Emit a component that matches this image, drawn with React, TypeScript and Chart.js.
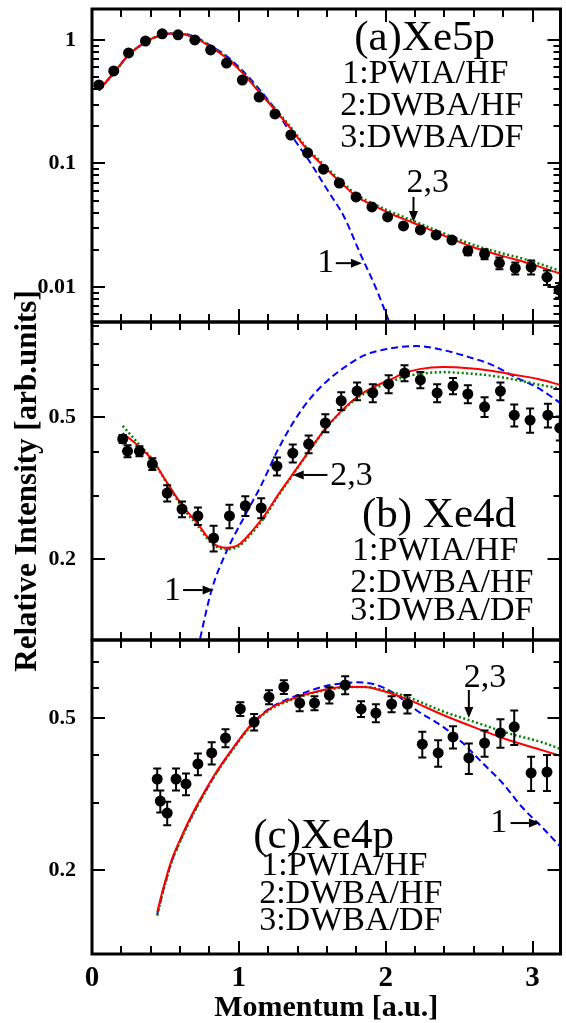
import React, { useEffect, useRef } from 'react';
import { Chart, registerables } from 'chart.js';

Chart.register(...registerables);

const FONT = '"Liberation Serif", "Times New Roman", serif';

// ---------- shared axis ticks ----------
const xTickPositions = [0, 0.2, 0.4, 0.6, 0.8, 1, 1.2, 1.4, 1.6, 1.8, 2, 2.2, 2.4, 2.6, 2.8, 3, 3.19];
const xTickValues = [0, 1, 2, 3];
const xTickLabels = ['0', '1', '2', '3'];

// ---------- (a) Xe5p ----------
const aMomentum = [0.047, 0.148, 0.249, 0.364, 0.478, 0.586, 0.700, 0.808, 0.916, 1.024, 1.138, 1.246, 1.354, 1.468, 1.576, 1.684, 1.798, 1.906, 2.013, 2.121, 2.236, 2.343, 2.451, 2.559, 2.673, 2.774, 2.882, 2.990, 3.098, 3.18];
const aIntensity = [0.432, 0.561, 0.785, 0.98, 1.12, 1.10, 1.0, 0.83, 0.65, 0.474, 0.345, 0.252, 0.170, 0.122, 0.090, 0.0695, 0.0536, 0.0445, 0.0369, 0.0312, 0.0290, 0.0264, 0.0240, 0.0196, 0.0185, 0.0156, 0.0142, 0.0145, 0.0120, 0.0095];
const aError = [0, 0, 0, 0, 0, 0, 0, 0, 0, 0, 0, 0, 0, 0, 0, 0, 0, 0, 0, 0, 0, 0.0008, 0.0009, 0.0015, 0.0017, 0.0017, 0.0016, 0.0019, 0.0016, 0.0013];
const aTheoryMomentum = [0.047, 0.148, 0.249, 0.364, 0.478, 0.586, 0.700, 0.808, 0.916, 1.024, 1.138, 1.246, 1.333, 1.468, 1.582, 1.690, 1.805, 1.919, 2.027, 2.189, 2.343, 2.458, 2.566, 2.700, 2.835, 2.970, 3.19];
const aDwbaHf = [0.394, 0.54, 0.756, 0.96, 1.10, 1.13, 1.04, 0.877, 0.715, 0.541, 0.379, 0.271, 0.205, 0.1285, 0.0937, 0.0708, 0.0536, 0.0455, 0.0395, 0.0330, 0.0277, 0.0243, 0.0216, 0.0192, 0.0173, 0.0156, 0.0128];
const aDwbaDf = [0.390, 0.535, 0.752, 0.958, 1.10, 1.13, 1.045, 0.885, 0.725, 0.550, 0.386, 0.277, 0.210, 0.132, 0.0965, 0.073, 0.0555, 0.0470, 0.0410, 0.0343, 0.0288, 0.0254, 0.0226, 0.0201, 0.0182, 0.0165, 0.0135];
const aPwiaMomentum = [0.047, 0.148, 0.249, 0.364, 0.478, 0.586, 0.700, 0.808, 0.916, 1.024, 1.138, 1.266, 1.380, 1.488, 1.603, 1.717, 1.825, 1.939, 2.027, 2.10];
const aPwiaHf = [0.394, 0.54, 0.756, 0.96, 1.10, 1.14, 1.06, 0.90, 0.74, 0.565, 0.40, 0.256, 0.155, 0.101, 0.061, 0.0369, 0.0188, 0.00946, 0.0051, 0.0031];
const aYTickValues = [1, 0.1, 0.01];
const aYTickLabels = ['1', '0.1', '0.01'];

// ---------- (b) Xe4d ----------
const bMomentum = [0.209, 0.242, 0.323, 0.411, 0.512, 0.613, 0.721, 0.828, 0.936, 1.044, 1.152, 1.259, 1.367, 1.475, 1.589, 1.697, 1.805, 1.912, 2.020, 2.128, 2.236, 2.350, 2.458, 2.559, 2.673, 2.781, 2.875, 2.983, 3.104, 3.185];
const bIntensity = [0.434, 0.401, 0.401, 0.369, 0.306, 0.276, 0.264, 0.229, 0.264, 0.282, 0.278, 0.364, 0.396, 0.420, 0.481, 0.555, 0.591, 0.584, 0.619, 0.664, 0.635, 0.584, 0.611, 0.580, 0.534, 0.591, 0.506, 0.490, 0.506, 0.466];
const bError = [0.011, 0.0155, 0.013, 0.014, 0.016, 0.014, 0.015, 0.019, 0.020, 0.018, 0.018, 0.021, 0.023, 0.024, 0.028, 0.032, 0.034, 0.034, 0.036, 0.034, 0.033, 0.034, 0.032, 0.034, 0.034, 0.034, 0.036, 0.038, 0.039, 0.036];
const bTheoryMomentum = [0.209, 0.323, 0.411, 0.512, 0.613, 0.727, 0.815, 0.916, 0.997, 1.084, 1.178, 1.266, 1.354, 1.468, 1.582, 1.690, 1.805, 1.919, 2.027, 2.128, 2.229, 2.391, 2.566, 2.727, 2.882, 3.037, 3.19];
const bDwbaHf = [0.451, 0.412, 0.379, 0.327, 0.283, 0.249, 0.223, 0.215, 0.219, 0.238, 0.266, 0.302, 0.340, 0.396, 0.460, 0.516, 0.569, 0.607, 0.635, 0.664, 0.681, 0.690, 0.685, 0.673, 0.656, 0.639, 0.615];
const bDwbaDf = [0.472, 0.418, 0.380, 0.325, 0.280, 0.246, 0.221, 0.213, 0.217, 0.235, 0.263, 0.300, 0.338, 0.395, 0.459, 0.514, 0.565, 0.600, 0.625, 0.648, 0.660, 0.668, 0.662, 0.652, 0.636, 0.617, 0.600];
const bPwiaMomentum = [0.72, 0.815, 0.916, 1.044, 1.152, 1.266, 1.380, 1.488, 1.603, 1.717, 1.852, 2.007, 2.209, 2.391, 2.566, 2.727, 2.882, 3.037, 3.19];
const bPwiaHf = [0.112, 0.164, 0.210, 0.266, 0.322, 0.405, 0.490, 0.565, 0.632, 0.688, 0.744, 0.775, 0.790, 0.770, 0.736, 0.699, 0.647, 0.603, 0.547];
const bYTickValues = [0.5, 0.2];
const bYTickLabels = ['0.5', '0.2'];

// ---------- (c) Xe4p ----------
const cMomentum = [0.444, 0.465, 0.512, 0.572, 0.640, 0.721, 0.815, 0.909, 1.010, 1.104, 1.205, 1.306, 1.414, 1.515, 1.616, 1.724, 1.832, 1.933, 2.040, 2.148, 2.249, 2.357, 2.458, 2.566, 2.673, 2.781, 2.875, 2.990, 3.098];
const cIntensity = [0.346, 0.303, 0.282, 0.346, 0.336, 0.379, 0.405, 0.443, 0.528, 0.488, 0.567, 0.603, 0.547, 0.547, 0.574, 0.610, 0.528, 0.515, 0.544, 0.544, 0.427, 0.405, 0.446, 0.393, 0.430, 0.457, 0.474, 0.359, 0.361];
const cError = [0.023, 0.020, 0.020, 0.023, 0.022, 0.025, 0.027, 0.024, 0.022, 0.024, 0.024, 0.025, 0.026, 0.023, 0.028, 0.033, 0.025, 0.028, 0.026, 0.030, 0.033, 0.032, 0.030, 0.036, 0.034, 0.039, 0.049, 0.037, 0.039];
const cTheoryMomentum = [0.444, 0.478, 0.512, 0.545, 0.593, 0.680, 0.761, 0.842, 0.950, 1.084, 1.219, 1.333, 1.488, 1.717, 1.852, 2.027, 2.162, 2.391, 2.613, 2.835, 3.064, 3.19];
const cDwbaHf = [0.155, 0.175, 0.195, 0.214, 0.237, 0.279, 0.318, 0.359, 0.412, 0.480, 0.531, 0.556, 0.581, 0.603, 0.603, 0.581, 0.557, 0.509, 0.471, 0.438, 0.412, 0.398];
const cDwbaDf = [0.152, 0.172, 0.192, 0.211, 0.234, 0.276, 0.315, 0.356, 0.409, 0.477, 0.528, 0.553, 0.579, 0.601, 0.603, 0.586, 0.565, 0.520, 0.487, 0.456, 0.432, 0.415];
const cPwiaMomentum = [0.444, 0.478, 0.512, 0.545, 0.593, 0.680, 0.761, 0.842, 0.950, 1.084, 1.219, 1.333, 1.488, 1.603, 1.717, 1.805, 1.939, 2.054, 2.209, 2.391, 2.525, 2.660, 2.795, 2.929, 3.064, 3.19];
const cPwiaHf = [0.153, 0.173, 0.193, 0.212, 0.235, 0.277, 0.316, 0.357, 0.411, 0.480, 0.533, 0.560, 0.590, 0.608, 0.617, 0.620, 0.610, 0.581, 0.524, 0.474, 0.430, 0.381, 0.338, 0.292, 0.259, 0.230];
const cYTickValues = [0.5, 0.2];
const cYTickLabels = ['0.5', '0.2'];

// ---------- types ----------
type Note =
  | { kind: 'text'; text: string; x: number; y: number; size: number; align: CanvasTextAlign }
  | { kind: 'arrow'; x1: number; y1: number; x2: number; y2: number };

interface PanelSpec {
  id: string;
  padTop: number;
  padBottom: number;
  yMin: number;
  yMax: number;
  yTickValues: number[];
  yTickLabels: string[];
  expX: number[];
  expY: number[];
  expErr: number[];
  theoryX: number[];
  dwbaHf: number[];
  dwbaDf: number[];
  pwiaX: number[];
  pwiaHf: number[];
  notes: Note[];
  showX: boolean;
  showYTitle: boolean;
}

const legendLines = (title: string, tx: number, ty: number, lx: number[], ly: number[]): Note[] => [
  { kind: 'text', text: title, x: tx, y: ty, size: 43, align: 'left' },
  { kind: 'text', text: '1:PWIA/HF', x: lx[0], y: ly[0], size: 34, align: 'left' },
  { kind: 'text', text: '2:DWBA/HF', x: lx[1], y: ly[1], size: 34, align: 'left' },
  { kind: 'text', text: '3:DWBA/DF', x: lx[2], y: ly[2], size: 34, align: 'left' },
];

const panels: PanelSpec[] = [
  {
    id: 'a', padTop: 9, padBottom: 701, yMin: 0.00521, yMax: 1.78,
    yTickValues: aYTickValues, yTickLabels: aYTickLabels,
    expX: aMomentum, expY: aIntensity, expErr: aError,
    theoryX: aTheoryMomentum, dwbaHf: aDwbaHf, dwbaDf: aDwbaDf,
    pwiaX: aPwiaMomentum, pwiaHf: aPwiaHf,
    showX: false, showYTitle: false,
    notes: [
      ...legendLines('(a)Xe5p', 1.785, 0.83, [1.704, 1.69, 1.69], [0.449, 0.247, 0.136]),
      { kind: 'text', text: '2,3', x: 2.141, y: 0.0588, size: 34, align: 'left' },
      { kind: 'arrow', x1: 2.189, y1: 0.0536, x2: 2.189, y2: 0.0336 },
      { kind: 'text', text: '1', x: 1.65, y: 0.0132, size: 34, align: 'right' },
      { kind: 'arrow', x1: 1.66, y1: 0.0156, x2: 1.838, y2: 0.0156 },
    ],
  },
  {
    id: 'b', padTop: 322, padBottom: 383, yMin: 0.1186, yMax: 0.923,
    yTickValues: bYTickValues, yTickLabels: bYTickLabels,
    expX: bMomentum, expY: bIntensity, expErr: bError,
    theoryX: bTheoryMomentum, dwbaHf: bDwbaHf, dwbaDf: bDwbaDf,
    pwiaX: bPwiaMomentum, pwiaHf: bPwiaHf,
    showX: false, showYTitle: true,
    notes: [
      ...legendLines('(b) Xe4d', 1.838, 0.246, [1.771, 1.758, 1.758], [0.199, 0.1616, 0.135]),
      { kind: 'text', text: '2,3', x: 1.623, y: 0.3224, size: 34, align: 'left' },
      { kind: 'arrow', x1: 1.603, y1: 0.344, x2: 1.367, y2: 0.344 },
      { kind: 'text', text: '1', x: 0.606, y: 0.1535, size: 34, align: 'right' },
      { kind: 'arrow', x1: 0.62, y1: 0.1637, x2: 0.828, y2: 0.1637 },
    ],
  },
  {
    id: 'c', padTop: 640, padBottom: 0, yMin: 0.1206, yMax: 0.80,
    yTickValues: cYTickValues, yTickLabels: cYTickLabels,
    expX: cMomentum, expY: cIntensity, expErr: cError,
    theoryX: cTheoryMomentum, dwbaHf: cDwbaHf, dwbaDf: cDwbaDf,
    pwiaX: cPwiaMomentum, pwiaHf: cPwiaHf,
    showX: true, showYTitle: false,
    notes: [
      ...legendLines('(c)Xe4p', 1.098, 0.2284, [1.152, 1.138, 1.138], [0.194, 0.164, 0.139]),
      { kind: 'text', text: '2,3', x: 2.532, y: 0.603, size: 34, align: 'left' },
      { kind: 'arrow', x1: 2.566, y1: 0.592, x2: 2.566, y2: 0.5 },
      { kind: 'text', text: '1', x: 2.828, y: 0.2514, size: 34, align: 'right' },
      { kind: 'arrow', x1: 2.85, y1: 0.2655, x2: 3.05, y2: 0.2655 },
    ],
  },
];

// ---------- helpers ----------
const pts = (xs: number[], ys: number[]) => xs.map((x, i) => ({ x, y: ys[i] }));

const labelFor = (v: number, values: number[], labels: string[]) => {
  const i = values.findIndex((t) => Math.abs(t - v) <= 1e-6 * Math.max(1, Math.abs(t)));
  return i >= 0 ? labels[i] : '';
};

const isWholeSignificand = (v: number) => {
  if (!(v > 0)) return false;
  const m = v / Math.pow(10, Math.floor(Math.log10(v) + 1e-9));
  return Math.abs(m - Math.round(m)) < 1e-6;
};

const axisFont = (size: number) => ({ family: FONT, size, weight: 'bold' as const, lineHeight: 1 });

function makeDeco(p: PanelSpec) {
  return {
    id: 'deco-' + p.id,
    afterDatasetsDraw(chart: any) {
      const { ctx, chartArea: a } = chart;
      const xs = chart.scales.x;
      const ys = chart.scales.y;
      ctx.save();
      ctx.beginPath();
      ctx.rect(a.left, a.top, a.right - a.left, a.bottom - a.top);
      ctx.clip();
      ctx.strokeStyle = '#000';
      ctx.lineWidth = 2;
      ctx.beginPath();
      p.expX.forEach((xv, i) => {
        const e = p.expErr[i];
        if (!e) return;
        const px = xs.getPixelForValue(xv);
        const yT = ys.getPixelForValue(p.expY[i] + e);
        const yB = ys.getPixelForValue(p.expY[i] - e);
        ctx.moveTo(px, yT);
        ctx.lineTo(px, yB);
        ctx.moveTo(px - 4, yT);
        ctx.lineTo(px + 4, yT);
        ctx.moveTo(px - 4, yB);
        ctx.lineTo(px + 4, yB);
      });
      ctx.stroke();
      ctx.restore();
    },
    afterDraw(chart: any) {
      const { ctx, chartArea: a } = chart;
      const xs = chart.scales.x;
      const ys = chart.scales.y;
      ctx.save();
      ctx.strokeStyle = '#000';
      ctx.lineWidth = 2;
      ctx.beginPath();
      const xTicks = (xs.ticks && xs.ticks.length ? xs.ticks.map((t: any) => t.value) : xTickPositions) as number[];
      for (const v of xTicks) {
        if (v <= xs.min + 1e-9 || v >= xs.max - 1e-9) continue;
        const px = Math.round(xs.getPixelForValue(v));
        const len = xTickValues.some((m) => Math.abs(m - v) < 1e-6) ? 13 : 8;
        ctx.moveTo(px, a.bottom);
        ctx.lineTo(px, a.bottom - len);
        ctx.moveTo(px, a.top);
        ctx.lineTo(px, a.top + len);
      }
      for (const t of ys.ticks) {
        const v = t.value;
        if (v <= ys.min * (1 + 1e-9) || v >= ys.max * (1 - 1e-9)) continue;
        const py = Math.round(ys.getPixelForValue(v));
        const len = p.yTickValues.some((m) => Math.abs(m - v) < 1e-6 * m) ? 13 : 7;
        ctx.moveTo(a.left, py);
        ctx.lineTo(a.left + len, py);
        ctx.moveTo(a.right, py);
        ctx.lineTo(a.right - len, py);
      }
      ctx.stroke();
      ctx.lineWidth = 3;
      ctx.strokeRect(a.left, a.top, a.right - a.left, a.bottom - a.top);

      // annotations
      ctx.fillStyle = '#000';
      for (const n of p.notes) {
        if (n.kind === 'text') {
          ctx.font = `${n.size}px ${FONT}`;
          ctx.textAlign = n.align;
          ctx.textBaseline = 'alphabetic';
          ctx.fillText(n.text, xs.getPixelForValue(n.x), ys.getPixelForValue(n.y));
        } else {
          const x1 = xs.getPixelForValue(n.x1);
          const y1 = ys.getPixelForValue(n.y1);
          const x2 = xs.getPixelForValue(n.x2);
          const y2 = ys.getPixelForValue(n.y2);
          const ang = Math.atan2(y2 - y1, x2 - x1);
          const head = 11;
          const hw = 4.5;
          const bx = x2 - head * Math.cos(ang);
          const by = y2 - head * Math.sin(ang);
          ctx.lineWidth = 2;
          ctx.beginPath();
          ctx.moveTo(x1, y1);
          ctx.lineTo(bx, by);
          ctx.stroke();
          ctx.beginPath();
          ctx.moveTo(x2, y2);
          ctx.lineTo(bx + hw * Math.sin(ang), by - hw * Math.cos(ang));
          ctx.lineTo(bx - hw * Math.sin(ang), by + hw * Math.cos(ang));
          ctx.closePath();
          ctx.fill();
        }
      }
      ctx.restore();
    },
  };
}

function buildConfig(p: PanelSpec): any {
  const line = (label: string, xs: number[], ys: number[], color: string, width: number, dash: number[], order: number) => ({
    label,
    data: pts(xs, ys),
    showLine: true,
    borderColor: color,
    backgroundColor: color,
    borderWidth: width,
    borderDash: dash,
    pointRadius: 0,
    pointHoverRadius: 0,
    cubicInterpolationMode: 'monotone',
    order,
    clip: 0,
  });
  return {
    type: 'scatter',
    data: {
      datasets: [
        {
          label: 'Experiment',
          data: pts(p.expX, p.expY),
          showLine: false,
          pointRadius: 5.5,
          pointHoverRadius: 5.5,
          pointBackgroundColor: '#000',
          pointBorderColor: '#000',
          pointBorderWidth: 0,
          order: 0,
          clip: 0,
        },
        line('2:DWBA/HF', p.theoryX, p.dwbaHf, '#ff0000', 2, [], 1),
        line('3:DWBA/DF', p.theoryX, p.dwbaDf, '#008000', 2.5, [2, 2.5], 2),
        line('1:PWIA/HF', p.pwiaX, p.pwiaHf, '#0000ff', 2, [7, 4], 3),
      ],
    },
    options: {
      responsive: false,
      animation: false,
      devicePixelRatio: 1,
      events: [],
      layout: { padding: { top: p.padTop, bottom: p.padBottom, left: 0, right: 1 } },
      plugins: { legend: { display: false }, tooltip: { enabled: false } },
      scales: {
        x: {
          type: 'linear',
          min: 0,
          max: 3.19,
          position: 'bottom',
          border: { display: false },
          grid: { display: false },
          afterBuildTicks: (s: any) => {
            s.ticks = xTickPositions.map((v) => ({ value: v }));
          },
          ticks: {
            display: p.showX,
            autoSkip: false,
            maxRotation: 0,
            padding: 2,
            color: '#000',
            font: axisFont(29),
            callback: (v: any) => labelFor(Number(v), xTickValues, xTickLabels),
          },
          title: { display: p.showX, text: 'Momentum [a.u.]', color: '#000', font: axisFont(30), padding: 0 },
          afterFit: (s: any) => {
            s.height = p.showX ? 69 : 0;
            s.paddingLeft = 0;
            s.paddingRight = 0;
          },
        },
        y: {
          type: 'logarithmic',
          min: p.yMin,
          max: p.yMax,
          position: 'left',
          border: { display: false },
          grid: { display: false },
          afterBuildTicks: (s: any) => {
            s.ticks = s.ticks.filter((t: any) => isWholeSignificand(t.value));
          },
          ticks: {
            autoSkip: false,
            padding: 8,
            color: '#000',
            font: axisFont(22),
            callback: (v: any) => labelFor(Number(v), p.yTickValues, p.yTickLabels),
          },
          title: {
            display: p.showYTitle,
            text: 'Relative Intensity [arb.units]',
            color: '#000',
            font: axisFont(31),
            padding: { top: 12, bottom: 0 },
          },
          afterFit: (s: any) => {
            s.width = 92;
            s.paddingTop = 0;
            s.paddingBottom = 0;
          },
        },
      },
    },
    plugins: [makeDeco(p)],
  };
}

function Panel({ spec }: { spec: PanelSpec }) {
  const ref = useRef<HTMLCanvasElement>(null);
  useEffect(() => {
    if (!ref.current) return;
    const chart = new Chart(ref.current, buildConfig(spec));
    return () => chart.destroy();
  }, [spec]);
  return (
    <canvas
      ref={ref}
      width={566}
      height={1023}
      style={{ position: 'absolute', left: 0, top: 0, width: 566, height: 1023 }}
    />
  );
}

export default function App() {
  return (
    <div style={{ position: 'absolute', left: 0, top: 0, width: 566, height: 1023, background: '#fff' }}>
      {panels.map((p) => (
        <Panel key={p.id} spec={p} />
      ))}
    </div>
  );
}
